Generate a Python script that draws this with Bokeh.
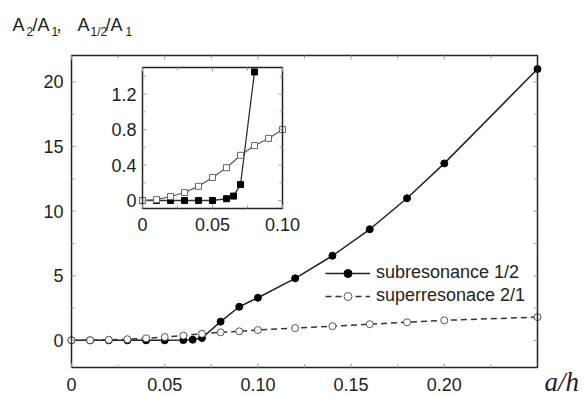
from bokeh.plotting import figure
from bokeh.models import Range1d, Legend, LegendItem
from bokeh.embed import file_html
from bokeh.resources import INLINE
from bokeh.core.properties import value
import math

# ---------------- data ----------------
sub_x = [0, 0.01, 0.02, 0.03, 0.04, 0.05, 0.06, 0.065, 0.07, 0.08, 0.09, 0.10, 0.12, 0.14, 0.16, 0.18, 0.20, 0.25]
sub_y = [0, 0, 0, 0, 0, 0, 0.02, 0.05, 0.18, 1.45, 2.6, 3.3, 4.8, 6.55, 8.6, 11.0, 13.7, 21.0]
sup_x = [0, 0.01, 0.02, 0.03, 0.04, 0.05, 0.06, 0.07, 0.08, 0.09, 0.10, 0.12, 0.14, 0.16, 0.18, 0.20, 0.25]
sup_y = [0, 0.01, 0.045, 0.09, 0.16, 0.26, 0.37, 0.51, 0.62, 0.70, 0.80, 0.95, 1.1, 1.25, 1.4, 1.55, 1.8]

sub_label = "subresonance 1/2"
sup_label = "superresonace 2/1"

x_lim = (0, 0.25)
y_lim = (-2.1, 22.05)
x_ticks = [0, 0.05, 0.10, 0.15, 0.20]
x_tick_labels = ["0", "0.05", "0.10", "0.15", "0.20"]
x_minor = [0.025, 0.075, 0.125, 0.175, 0.225]
y_ticks = [0, 5, 10, 15, 20]
y_tick_labels = ["0", "5", "10", "15", "20"]
y_minor = [2.5, 7.5, 12.5, 17.5]

inset_x_lim = (0, 0.10)
inset_y_lim = (-0.09, 1.5)
inset_sub_max = 0.08
inset_x_ticks = [0, 0.05, 0.10]
inset_x_tick_labels = ["0", "0.05", "0.10"]
inset_x_minor = [0.025, 0.075]
inset_y_ticks = [0, 0.4, 0.8, 1.2]
inset_y_tick_labels = ["0", "0.4", "0.8", "1.2"]
inset_y_minor = [0.2, 0.6, 1.0, 1.4]

# y-title pieces: (text, is_subscript)
y_title_parts = [("A", False), ("2", True), ("/A", False), ("1", True), (",", False),
                 ("A", False), ("1/2", True), ("/A", False), ("1", True)]
x_title = "a/h"

# ---------------- layout (pixels) ----------------
W, H = 587, 396
BOX = (71, 537, 55, 367)        # left, right, top, bottom of main plot box
IBOX = (142, 282, 67, 208)      # inset box
FONT = "Liberation Sans"
INK = "#222222"
TICK = "#999999"
FS = "18px"

def lin_range(lo, hi, p_lo, p_hi, p_total, flip=False):
    # data lo..hi occupies pixels p_lo..p_hi out of 0..p_total
    s = (p_hi - p_lo) / (hi - lo)
    if flip:  # y: pixel measured from top
        return Range1d(lo - (p_total - p_hi) / s, hi + p_lo / s)
    return Range1d(lo - p_lo / s, hi + (p_total - p_hi) / s)

p = figure(width=W, height=H,
           x_range=lin_range(*x_lim, BOX[0], BOX[1], W),
           y_range=lin_range(*y_lim, BOX[2], BOX[3], H, flip=True),
           x_axis_location=None, y_axis_location=None,
           output_backend="svg", toolbar_location=None, min_border=0)
p.grid.visible = False
p.outline_line_color = None
p.background_fill_color = "white"
p.border_fill_color = "white"

def draw_frame(xl, yl, xt, xm, yt, ym, **R):
    # box
    p.quad(left=[xl[0]], right=[xl[1]], bottom=[yl[0]], top=[yl[1]],
           fill_color=None, line_color=INK, line_width=1.5, **R)
    # inward ticks
    for ticks, ln in ((xt, 4), (xm, 3)):
        n = len(ticks)
        p.ray(x=ticks, y=[yl[0]] * n, length=ln, angle=math.pi / 2, length_units="screen", line_color=TICK, **R)
        p.ray(x=ticks, y=[yl[1]] * n, length=ln, angle=-math.pi / 2, length_units="screen", line_color=TICK, **R)
    for ticks, ln in ((yt, 4), (ym, 3)):
        n = len(ticks)
        p.ray(x=[xl[0]] * n, y=ticks, length=ln, angle=0, length_units="screen", line_color=TICK, **R)
        p.ray(x=[xl[1]] * n, y=ticks, length=ln, angle=math.pi, length_units="screen", line_color=TICK, **R)

def draw_tick_labels(xl, yl, xt, xtl, yt, ytl, xoff, yoff, **R):
    p.text(x=[xl[0]] * len(yt), y=yt, text=ytl, x_offset=-xoff, text_align="right", text_baseline="middle",
           text_font=value(FONT), text_font_size=FS, text_color=INK, **R)
    p.text(x=xt, y=[yl[0]] * len(xt), text=xtl, y_offset=yoff, text_align="center", text_baseline="top",
           text_font=value(FONT), text_font_size=FS, text_color=INK, **R)

# ---------------- main plot ----------------
sub_line = p.line(sub_x, sub_y, line_color=INK, line_width=1.5)
sub_pts = p.scatter(sub_x, sub_y, marker="circle", size=7, fill_color="black", line_color="black")
sup_line = p.line(sup_x, sup_y, line_color="#333333", line_width=1.5, line_dash="6 4")
sup_pts = p.scatter(sup_x, sup_y, marker="circle", size=7, fill_color="white", line_color="#555555", line_width=1)

draw_frame(x_lim, y_lim, x_ticks, x_minor, y_ticks, y_minor)
draw_tick_labels(x_lim, y_lim, x_ticks, x_tick_labels, y_ticks, y_tick_labels, 8, 10)

legend = Legend(items=[LegendItem(label=sub_label, renderers=[sub_line, sub_pts]),
                       LegendItem(label=sup_label, renderers=[sup_line, sup_pts])],
                location=(325, H - 306), glyph_width=45, glyph_height=20, label_height=20,
                spacing=2, padding=0, margin=0, label_standoff=6,
                border_line_color=None, background_fill_alpha=0,
                label_text_font=FONT, label_text_font_size=FS, label_text_color=INK)
p.add_layout(legend)

# ---------------- inset ----------------
p.extra_x_ranges = {"ix": lin_range(*inset_x_lim, IBOX[0], IBOX[1], W)}
p.extra_y_ranges = {"iy": lin_range(*inset_y_lim, IBOX[2], IBOX[3], H, flip=True)}
R = dict(x_range_name="ix", y_range_name="iy")

p.quad(left=[inset_x_lim[0]], right=[inset_x_lim[1]], bottom=[inset_y_lim[0]], top=[inset_y_lim[1]],
       fill_color="white", line_color=None, **R)
isx = [x for x in sub_x if x <= inset_sub_max]
isy = [y for x, y in zip(sub_x, sub_y) if x <= inset_sub_max]
ipx = [x for x in sup_x if x <= inset_x_lim[1]]
ipy = [y for x, y in zip(sup_x, sup_y) if x <= inset_x_lim[1]]
p.line(isx, isy, line_color="#333333", line_width=1.3, **R)
p.line(ipx, ipy, line_color="#555555", line_width=1.2, **R)
p.scatter(isx, isy, marker="square", size=6, fill_color="black", line_color="black", **R)
p.scatter(ipx, ipy, marker="square", size=6, fill_color="white", line_color="#666666", line_width=1, **R)
draw_frame(inset_x_lim, inset_y_lim, inset_x_ticks, inset_x_minor, inset_y_ticks, inset_y_minor, **R)
draw_tick_labels(inset_x_lim, inset_y_lim, inset_x_ticks, inset_x_tick_labels,
                 inset_y_ticks, inset_y_tick_labels, 6, 9, **R)

# ---------------- axis titles ----------------
# y title: pieces laid out left to right, anchored to the top-left corner of the main box
piece_x = [-59, -45, -39, -20, -15, 6, 19, 34, 54]
for (txt, sub), xo in zip(y_title_parts, piece_x):
    p.text(x=[x_lim[0]], y=[y_lim[1]], text=[txt], x_offset=xo, y_offset=(-24 if sub else -31),
           text_baseline="alphabetic", text_align="left",
           text_font=value(FONT), text_font_size=("12px" if sub else FS), text_color=INK)

p.text(x=[x_lim[1]], y=[y_lim[0]], text=[x_title], x_offset=7, y_offset=14,
       text_baseline="alphabetic", text_align="left",
       text_font=value("Liberation Serif"), text_font_style="italic", text_font_size="27px", text_color=INK)

open("out.html", "w").write(file_html(p, INLINE))
